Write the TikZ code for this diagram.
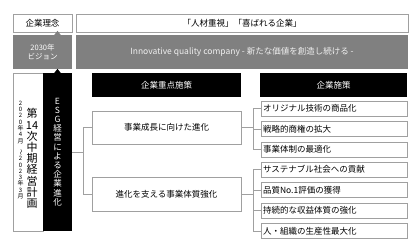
\documentclass[tikz,border=0pt]{standalone}
\usepackage{fontspec}
\setmainfont{Noto Sans CJK JP}
\usetikzlibrary{positioning}
\definecolor{linegray}{RGB}{160,160,160}
\definecolor{visiongray}{RGB}{128,128,128}

\begin{document}
\begin{tikzpicture}[x=1pt, y=-1pt,
  every node/.style={inner sep=0pt, font=\fontsize{8.5}{10}\selectfont},
  lightbox/.style={draw=linegray, line width=0.6pt, fill=white},
  greybox/.style={fill=visiongray, text=white},
  darkbox/.style={fill=black, text=white},
  measure/.style={lightbox, minimum width=146pt, minimum height=15pt, text width=142pt, align=left},
  link/.style={draw=linegray, line width=0.6pt}]
  \useasboundingbox (0,0) rectangle (418,247);
  % philosophy and vision rows
  \node[lightbox, minimum width=59pt, minimum height=18pt] (rinen) at (42.5,23) {企業理念};
  \node[lightbox, minimum width=332pt, minimum height=18pt] (rinentext) at (242,23) {「人材重視」「喜ばれる企業」};
  \node[greybox, minimum width=59pt, minimum height=34pt, align=center, font=\fontsize{7.5}{9.5}\selectfont] (vision) at (42.5,52) {2030年\\ビジョン};
  \node[greybox, minimum width=332pt, minimum height=34pt, text=white!88!visiongray, font=\fontsize{8.5}{10}\selectfont] (visiontext) at (242,52) {Innovative quality company - 新たな価値を創造し続ける -};
  % plan column
  \node[lightbox, minimum width=30pt, minimum height=158pt] (plan) at (28,152) {};
  \node[align=center, font=\fontsize{11}{11.2}\selectfont] (planname) at (32,158.5) {第\\14\\次\\中\\期\\経\\営\\計\\画};
  \node[align=center, font=\fontsize{6}{6.3}\selectfont] (planterm) at (20.5,150) {2\\0\\2\\0\\年\\4\\月\\\rotatebox{-90}{～}\\2\\0\\2\\3\\年\\3\\月};
  \node[darkbox, minimum width=29pt, minimum height=158pt, align=center, font=\fontsize{8.5}{9.2}\selectfont] (esg) at (57.5,152) {E\\S\\G\\経\\営\\に\\よ\\る\\企\\業\\進\\化};
  \fill[visiongray] (esg.north |- vision.north) ++(-3.5,0.5) -- ++(3.5,-4.5) -- ++(3.5,4.5) -- cycle;
  \fill[black] (esg.north) ++(-3.5,0.5) -- ++(3.5,-4.5) -- ++(3.5,4.5) -- cycle;
  % key measures
  \node[darkbox, minimum width=149pt, minimum height=24pt] (focus) at (166.5,85) {企業重点施策};
  \node[lightbox, minimum width=149pt, minimum height=33pt] (grow) at (166.5,127.5) {事業成長に向けた進化};
  \node[lightbox, minimum width=149pt, minimum height=34pt] (base) at (166.5,194) {進化を支える事業体質強化};
  % measures
  \node[darkbox, minimum width=147pt, minimum height=24pt] (measures) at (333.5,85) {企業施策};
  \node[measure] (m1) at (334,108.5) {オリジナル技術の商品化};
  \node[measure, below=4.8pt of m1] (m2) {戦略的商権の拡大};
  \node[measure, below=4.8pt of m2] (m3) {事業体制の最適化};
  \node[measure, below=4.8pt of m3] (m4) {サステナブル社会への貢献};
  \node[measure, below=4.8pt of m4] (m5) {品質No.1評価の獲得};
  \node[measure, below=4.8pt of m5] (m6) {持続的な収益体質の強化};
  \node[measure, below=4.8pt of m6] (m7) {人・組織の生産性最大化};
  % connectors
  \coordinate[right=11pt of esg] (lj);
  \draw[link] (esg.east) -- (lj);
  \draw[link] (grow.west) -| (lj) |- (base.west);
  \coordinate[right=12pt of grow] (rj1);
  \draw[link] (grow.east) -- (rj1);
  \draw[link] (m1.west) -| (rj1) |- (m3.west);
  \draw[link] (rj1) |- (m2.west);
  \coordinate[right=12pt of base] (rj2);
  \draw[link] (base.east) -- (rj2);
  \draw[link] (m4.west) -| (rj2) |- (m7.west);
  \draw[link] (rj2) |- (m5.west);
  \draw[link] (rj2) |- (m6.west);
\end{tikzpicture}
\end{document}
